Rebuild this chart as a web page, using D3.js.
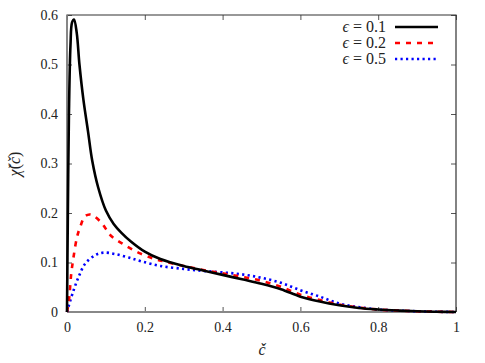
<!DOCTYPE html>
<html>
<head>
<meta charset="utf-8">
<script src="https://cdn.jsdelivr.net/npm/d3@7"></script>
<style>
  body { margin: 0; background: #fff; }
  svg text { font-family: "Liberation Serif", "DejaVu Serif", "Times New Roman", Times, "Noto Serif", serif !important; }
</style>
</head>
<body>
<div id="chart"></div>
<script>
// values
const c01 = [0, 0.002, 0.005, 0.009, 0.013, 0.018, 0.025, 0.032, 0.042, 0.054, 0.065, 0.08, 0.1, 0.12, 0.14, 0.165, 0.2, 0.24, 0.3, 0.35, 0.4, 0.45, 0.5, 0.55, 0.6, 0.65, 0.7, 0.75, 0.8, 0.85, 0.9, 0.95, 1];
const v01 = [0, 0.18, 0.4, 0.54, 0.585, 0.591, 0.564, 0.5, 0.43, 0.365, 0.305, 0.252, 0.205, 0.178, 0.16, 0.142, 0.122, 0.107, 0.093, 0.084, 0.075, 0.066, 0.057, 0.046, 0.031, 0.021, 0.0135, 0.008, 0.005, 0.003, 0.0015, 0.0005, 0];

const c02 = [0, 0.003, 0.006, 0.011, 0.017, 0.026, 0.034, 0.046, 0.058, 0.069, 0.09, 0.113, 0.147, 0.186, 0.222, 0.25, 0.3, 0.35, 0.4, 0.45, 0.5, 0.55, 0.6, 0.65, 0.7, 0.75, 0.8, 0.85, 0.9, 0.95, 1];
const v02 = [0, 0.012, 0.031, 0.078, 0.112, 0.152, 0.172, 0.193, 0.197, 0.194, 0.179, 0.154, 0.136, 0.119, 0.108, 0.102, 0.093, 0.085, 0.078, 0.071, 0.063, 0.051, 0.035, 0.024, 0.015, 0.009, 0.005, 0.003, 0.0015, 0.0005, 0];

const c05 = [0, 0.004, 0.017, 0.03, 0.047, 0.073, 0.094, 0.124, 0.159, 0.193, 0.24, 0.3, 0.35, 0.4, 0.45, 0.5, 0.55, 0.6, 0.65, 0.7, 0.75, 0.8, 0.85, 0.9, 0.95, 1];
const v05 = [0, 0.011, 0.044, 0.071, 0.098, 0.115, 0.12, 0.117, 0.11, 0.102, 0.093, 0.087, 0.083, 0.08, 0.076, 0.069, 0.059, 0.044, 0.031, 0.017, 0.01, 0.005, 0.003, 0.0015, 0.0005, 0];

const epsValues = ["0.1", "0.2", "0.5"];
const xTicks = [0, 0.2, 0.4, 0.6, 0.8, 1];
const yTicks = [0, 0.1, 0.2, 0.3, 0.4, 0.5, 0.6];

const width = 485, height = 363;
const margin = {top: 15, right: 29, bottom: 51, left: 67};

const svg = d3.select("#chart").append("svg")
    .attr("width", width).attr("height", height);

const x = d3.scaleLinear().domain([0, 1]).range([margin.left, width - margin.right]);
const y = d3.scaleLinear().domain([0, 0.6]).range([height - margin.bottom, margin.top]);

// frame with inward ticks on all four sides
const tick = 5;
const fmt = d => d === 0 ? "0" : d === 1 ? "1" : d3.format(".1f")(d);

function styleAxis(g) {
  g.attr("font-family", null);
  g.select(".domain").remove();
  g.selectAll("line").attr("stroke", "#555");
  g.selectAll("text").attr("font-size", 14).attr("fill", "#222");
}

svg.append("g").attr("transform", `translate(0,${y(0)})`)
    .call(d3.axisBottom(x).tickValues(xTicks).tickSizeInner(-tick).tickSizeOuter(0).tickPadding(10).tickFormat(fmt))
    .call(styleAxis);

svg.append("g").attr("transform", `translate(${x(0)},0)`)
    .call(d3.axisLeft(y).tickValues(yTicks).tickSizeInner(-tick).tickSizeOuter(0).tickPadding(9).tickFormat(fmt))
    .call(styleAxis);

svg.append("g").attr("transform", `translate(0,${y(0.6)})`)
    .call(d3.axisTop(x).tickValues(xTicks).tickSizeInner(-tick).tickSizeOuter(0).tickFormat(""))
    .call(styleAxis);

svg.append("g").attr("transform", `translate(${x(1)},0)`)
    .call(d3.axisRight(y).tickValues(yTicks).tickSizeInner(-tick).tickSizeOuter(0).tickFormat(""))
    .call(styleAxis);

// border
svg.append("path")
    .attr("d", `M${x(0)},${y(0)}V${y(0.6)}H${x(1)}V${y(0)}`)
    .attr("fill", "none").attr("stroke", "#333").attr("stroke-width", 1.2);
svg.append("line")
    .attr("x1", x(0)).attr("x2", x(1)).attr("y1", y(0)).attr("y2", y(0))
    .attr("stroke", "#888").attr("stroke-width", 2);
svg.append("line")
    .attr("x1", x(0)).attr("x2", x(0)).attr("y1", y(0)).attr("y2", y(0.6))
    .attr("stroke", "#888").attr("stroke-width", 1.6);

const line = d3.line().x(d => x(d[0])).y(d => y(d[1])).curve(d3.curveCatmullRom.alpha(0.5));

const series = [
  {eps: epsValues[0], pts: d3.zip(c01, v01), color: "#000", dash: null, w: 2.6},
  {eps: epsValues[1], pts: d3.zip(c02, v02), color: "#ff0000", dash: "5,6", w: 2.6},
  {eps: epsValues[2], pts: d3.zip(c05, v05), color: "#0000ff", dash: "2.2,3.3", w: 2.6}
];

svg.append("g").selectAll("path").data(series.slice().reverse()).join("path")
    .attr("d", s => line(s.pts))
    .attr("fill", "none")
    .attr("stroke", s => s.color)
    .attr("stroke-width", s => s.w)
    .attr("stroke-dasharray", s => s.dash);

// legend
const leg = svg.append("g");
series.forEach((s, i) => {
  const ly = 27 + i * 16;
  leg.append("text").attr("x", 386).attr("y", ly + 5)
      .attr("text-anchor", "end").attr("font-size", 16).attr("fill", "#222")
      .html(`<tspan font-style="italic">\u03f5</tspan> = ${s.eps}`);
  leg.append("line").attr("x1", 395).attr("x2", 438).attr("y1", ly).attr("y2", ly)
      .attr("stroke", s.color).attr("stroke-width", s.w)
      .attr("stroke-dasharray", s.dash);
});

// axis titles
svg.append("text").attr("x", 262).attr("y", 355)
    .attr("text-anchor", "middle").attr("font-size", 16).attr("font-style", "italic").attr("fill", "#222")
    .text("\u010d");
svg.append("text").attr("transform", "translate(20,164) rotate(-90)")
    .attr("text-anchor", "middle").attr("font-size", 16).attr("fill", "#222")
    .html(`<tspan font-style="italic">\u03c7\u030c</tspan>(<tspan font-style="italic">\u010d</tspan>)`);
</script>
</body>
</html>
